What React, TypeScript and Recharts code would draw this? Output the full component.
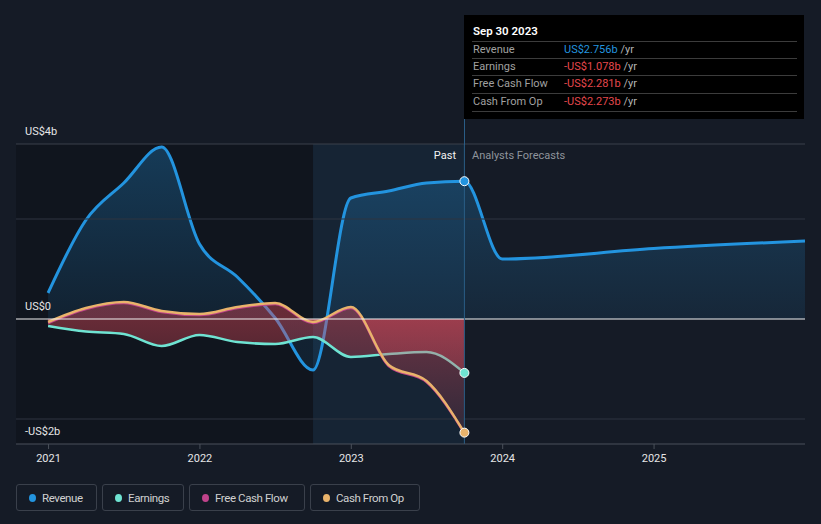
import React from 'react';
import {
  ComposedChart, Area, Line, XAxis, YAxis, ReferenceLine, ReferenceArea, ReferenceDot,
} from 'recharts';

// decimal years — quarter ends (past) and year ends (forecast)
const pastDates = [2020.997, 2021.247, 2021.497, 2021.747, 2021.997, 2022.247, 2022.497, 2022.747, 2022.997, 2023.247, 2023.497, 2023.747];
const forecastDates = [2023.997, 2024.997, 2025.997];

// values in US$ billions
const revenuePast = [0.52, 1.98, 2.72, 3.44, 1.5, 0.84, 0.02, -1.02, 2.42, 2.56, 2.72, 2.756];
const revenueForecast = [1.2, 1.41, 1.56];
const earnings = [-0.14, -0.25, -0.3, -0.54, -0.32, -0.46, -0.5, -0.36, -0.76, -0.7, -0.66, -1.078];
const cashFromOp = [-0.06, 0.22, 0.34, 0.16, 0.1, 0.24, 0.32, -0.06, 0.24, -0.92, -1.24, -2.273];
const freeCashFlow = [-0.08, 0.2, 0.32, 0.14, 0.08, 0.22, 0.3, -0.08, 0.22, -0.94, -1.26, -2.281];

const xTicks = [2021, 2022, 2023, 2024, 2025];
const yLabels = [
  { text: 'US$4b', top: 125 },
  { text: 'US$0', top: 300 },
  { text: '-US$2b', top: 425 },
];

const tooltipRows = [
  { label: 'Revenue', value: 'US$2.756b', color: '#2394df' },
  { label: 'Earnings', value: '-US$1.078b', color: '#e5484d' },
  { label: 'Free Cash Flow', value: '-US$2.281b', color: '#e5484d' },
  { label: 'Cash From Op', value: '-US$2.273b', color: '#e5484d' },
];

const legendItems = [
  { name: 'Revenue', color: '#2394df', w: 81 },
  { name: 'Earnings', color: '#6fe3d2', w: 82 },
  { name: 'Free Cash Flow', color: '#c0438b', w: 116 },
  { name: 'Cash From Op', color: '#e9b36b', w: 110 },
];

const X_MIN = 2020.785;
const X_MAX = 2025.997;
const PAST_END = pastDates[pastDates.length - 1];
const HIGHLIGHT_START = pastDates[7];

const data = [
  ...pastDates.map((d, i) => ({
    date: d,
    revenue: revenuePast[i],
    earnings: earnings[i],
    cfo: cashFromOp[i],
    fcf: freeCashFlow[i],
  })),
  ...forecastDates.map((d, i) => ({ date: d, revenue: revenueForecast[i] })),
];

const FONT = 'Roboto, "Open Sans", sans-serif';

export default function App() {
  const last = pastDates.length - 1;
  return (
    <div style={{ position: 'relative', width: 821, height: 524, background: '#151b26', fontFamily: FONT }}>
      <style>{'body{margin:0}'}</style>
      <ComposedChart width={821} height={524} data={data} margin={{ top: 144, right: 16, bottom: 50, left: 16 }}>
        <defs>
          <linearGradient id="revFill" x1="0" y1="144" x2="0" y2="319" gradientUnits="userSpaceOnUse">
            <stop offset="0" stopColor="#2394df" stopOpacity={0.3} />
            <stop offset="1" stopColor="#2394df" stopOpacity={0.1} />
          </linearGradient>
          <linearGradient id="redFill" x1="0" y1="319" x2="0" y2="444" gradientUnits="userSpaceOnUse">
            <stop offset="0" stopColor="#e04a5a" stopOpacity={0.42} />
            <stop offset="1" stopColor="#e04a5a" stopOpacity={0.1} />
          </linearGradient>
        </defs>
        <XAxis
          dataKey="date"
          type="number"
          domain={[X_MIN, X_MAX]}
          allowDataOverflow
          ticks={xTicks}
          tickFormatter={(v) => String(v)}
          height={30}
          axisLine={{ stroke: '#4a505a' }}
          tickLine={{ stroke: '#4a505a' }}
          tickSize={5}
          tick={{ fill: '#e6e6e6', fontSize: 11, fontFamily: FONT, dy: 3 }}
        />
        <YAxis type="number" domain={[-2.5, 3.5]} allowDataOverflow hide />
        <ReferenceArea x1={X_MIN} x2={HIGHLIGHT_START} y1={-2.5} y2={3.5} fill="#000" fillOpacity={0.2} stroke="none" ifOverflow="hidden" />
        <ReferenceArea x1={HIGHLIGHT_START} x2={PAST_END} y1={-2.5} y2={3.5} fill="#2394df" fillOpacity={0.08} stroke="none" />
        <ReferenceLine y={3.5} stroke="#3a404b" />
        <ReferenceLine y={2} stroke="#2e3440" />
        <ReferenceLine y={-2} stroke="#2e3440" />
        <Area
          type="monotone"
          dataKey="revenue"
          stroke="#2394df"
          strokeWidth={3}
          fill="url(#revFill)"
          fillOpacity={1}
          dot={false}
          activeDot={false}
          isAnimationActive={false}
        />
        <Area
          type="monotone"
          dataKey="earnings"
          stroke="#6fe3d2"
          strokeWidth={2.5}
          fill="url(#redFill)"
          fillOpacity={1}
          dot={false}
          activeDot={false}
          isAnimationActive={false}
        />
        <Area
          type="monotone"
          dataKey="fcf"
          stroke="#c0438b"
          strokeWidth={2.5}
          fill="url(#redFill)"
          fillOpacity={1}
          dot={false}
          activeDot={false}
          isAnimationActive={false}
        />
        <Line
          type="monotone"
          dataKey="cfo"
          stroke="#e9b36b"
          strokeWidth={2.5}
          dot={false}
          activeDot={false}
          isAnimationActive={false}
        />
        <ReferenceLine y={0} stroke="#f2f2f2" strokeWidth={1} />
        <ReferenceLine x={PAST_END} stroke="#2a5d86" strokeWidth={1} />
        <ReferenceDot x={PAST_END} y={revenuePast[last]} r={4.5} fill="#2394df" stroke="#fff" strokeWidth={1} />
        <ReferenceDot x={PAST_END} y={earnings[last]} r={4.5} fill="#6fe3d2" stroke="#fff" strokeWidth={1} />
        <ReferenceDot x={PAST_END} y={cashFromOp[last]} r={4.5} fill="#e9b36b" stroke="#fff" strokeWidth={1} />
      </ComposedChart>

      {/* y-axis labels */}
      {yLabels.map(l => (
        <div key={l.text} style={{ position: 'absolute', left: 25, top: l.top, fontSize: 11, color: '#e6e6e6' }}>{l.text}</div>
      ))}

      {/* divider extends up to tooltip box */}
      <div style={{ position: 'absolute', left: 464, top: 119, width: 1, height: 26, background: '#2a5d86' }} />

      {/* Past / forecast labels */}
      <div style={{ position: 'absolute', right: 821 - 456, top: 149, fontSize: 11, color: '#f2f2f2' }}>Past</div>
      <div style={{ position: 'absolute', left: 472, top: 149, fontSize: 11, color: '#8f949c' }}>Analysts Forecasts</div>

      {/* tooltip box */}
      <div style={{ position: 'absolute', left: 464, top: 15, width: 340, height: 104, background: '#000' }}>
        <div style={{ position: 'absolute', left: 9, top: 9, fontSize: 11.5, fontWeight: 600, color: '#fff' }}>Sep 30 2023</div>
        {tooltipRows.map((r, i) => (
          <div
            key={r.label}
            style={{
              position: 'absolute', left: 8, width: 325, top: 26 + i * 17.2, height: 17,
              borderTop: '1px solid #3c3c3c', fontSize: 11, lineHeight: '16px',
              ...(i === tooltipRows.length - 1 ? { borderBottom: '1px solid #3c3c3c' } : {}),
            }}
          >
            <span style={{ position: 'absolute', left: 1, color: '#a0a0a0' }}>{r.label}</span>
            <span style={{ position: 'absolute', left: 92, color: r.color }}>
              {r.value} <span style={{ color: '#b4b4b4' }}>/yr</span>
            </span>
          </div>
        ))}
      </div>

      {/* legend */}
      <div style={{ position: 'absolute', left: 16, top: 484, display: 'flex', gap: 5 }}>
        {legendItems.map(item => (
          <div
            key={item.name}
            style={{
              display: 'flex', alignItems: 'center', gap: 6, height: 27, width: item.w, boxSizing: 'border-box',
              paddingLeft: 12, border: '1px solid #3a404b', borderRadius: 3, fontSize: 11.5,
              letterSpacing: -0.4, color: '#d0d0d0', whiteSpace: 'nowrap',
            }}
          >
            <div style={{ width: 7, height: 8, borderRadius: '50%', background: item.color, flexShrink: 0 }} />
            {item.name}
          </div>
        ))}
      </div>
    </div>
  );
}
